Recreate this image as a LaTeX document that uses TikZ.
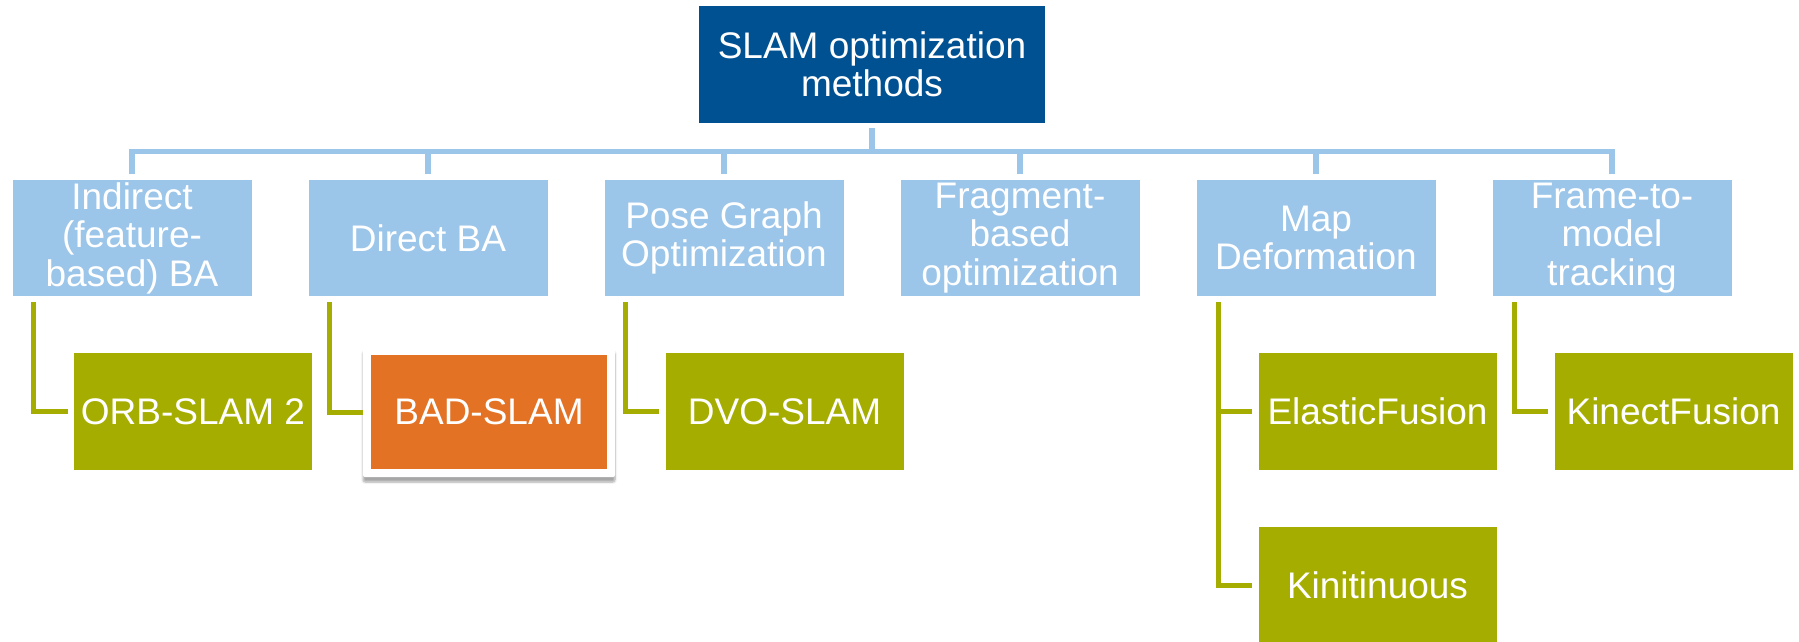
\documentclass[tikz,border=0pt]{standalone}
\usepackage{fontspec}
\setmainfont{Liberation Sans}
\usetikzlibrary{shadows.blur}
\definecolor{topblue}{RGB}{0,81,146}
\definecolor{lightblue}{RGB}{155,197,233}
\definecolor{slamgreen}{RGB}{165,174,0}
\definecolor{slamorange}{RGB}{227,114,36}
\begin{document}
\begin{tikzpicture}[x=1pt,y=-1pt,
  box/.style={rectangle, inner sep=0pt, minimum width=239pt, minimum height=116pt,
    text=white, align=center, font=\fontsize{37}{38.5}\selectfont},
  topbox/.style={box, fill=topblue, minimum width=346pt, minimum height=117pt},
  catbox/.style={box, fill=lightblue},
  leafbox/.style={box, fill=slamgreen, minimum width=238pt, minimum height=117pt},
  badbox/.style={box, fill=slamorange, minimum width=236pt, minimum height=114pt},
  badframe/.style={rectangle, fill=white, inner sep=0pt, minimum width=252pt, minimum height=130pt,
    rounded corners=2pt, blur shadow={shadow xshift=0pt, shadow yshift=-5pt, shadow opacity=35, shadow blur steps=6}},
  blueline/.style={draw=lightblue, line width=5.5pt},
  greenline/.style={draw=slamgreen, line width=5pt}]
\useasboundingbox (0,0) rectangle (1799,642);

% nodes
\node[topbox] (top) at (872,64.5) {SLAM optimization\\methods};
\node[catbox] (c1) at (132,238) {Indirect\\(feature-\\based) BA};
\node[catbox] (c2) at (428,238) {Direct BA};
\node[catbox] (c3) at (724,238) {Pose Graph\\Optimization};
\node[catbox] (c4) at (1020,238) {Fragment-\\based\\optimization};
\node[catbox] (c5) at (1316,238) {Map\\Deformation};
\node[catbox] (c6) at (1612,238) {Frame-to-\\model\\tracking};

\node[leafbox] (orb) at (193,411.5) {ORB-SLAM 2};
\node[badframe] (badf) at (489,412) {};
\node[badbox] (bad) at (489,412) {BAD-SLAM};
\node[leafbox] (dvo) at (784.5,411.5) {DVO-SLAM};
\node[leafbox] (ef) at (1377.5,411.5) {ElasticFusion};
\node[leafbox] (kin) at (1377.5,585.5) {Kinitinuous};
\node[leafbox] (kf) at (1673.5,411.5) {KinectFusion};

% blue connectors
\coordinate (bus) at (872,151.5);
\draw[blueline] ([yshift=-5pt]top.south) -- (bus);
\foreach \c in {c1,c2,c3,c4,c5,c6}
  \draw[blueline] ([yshift=6pt]\c.north) |- (bus);

% green connectors
\coordinate (s1) at ([xshift=21.5pt,yshift=-6pt]c1.south west);
\coordinate (s2) at ([xshift=21.5pt,yshift=-6pt]c2.south west);
\coordinate (s3) at ([xshift=21.5pt,yshift=-6pt]c3.south west);
\coordinate (s5) at ([xshift=22pt,yshift=-6pt]c5.south west);
\coordinate (s6) at ([xshift=22pt,yshift=-6pt]c6.south west);
\draw[greenline] (s1) |- ([xshift=-6pt]orb.west);
\draw[greenline] (s2) |- (badf.west);
\draw[greenline] (s3) |- ([xshift=-6pt]dvo.west);
\draw[greenline] (s5) |- ([xshift=-6pt]kin.west);
\draw[greenline] (s5 |- ef.west) -- ([xshift=-6pt]ef.west);
\draw[greenline] (s6) |- ([xshift=-6pt]kf.west);
\end{tikzpicture}
\end{document}
